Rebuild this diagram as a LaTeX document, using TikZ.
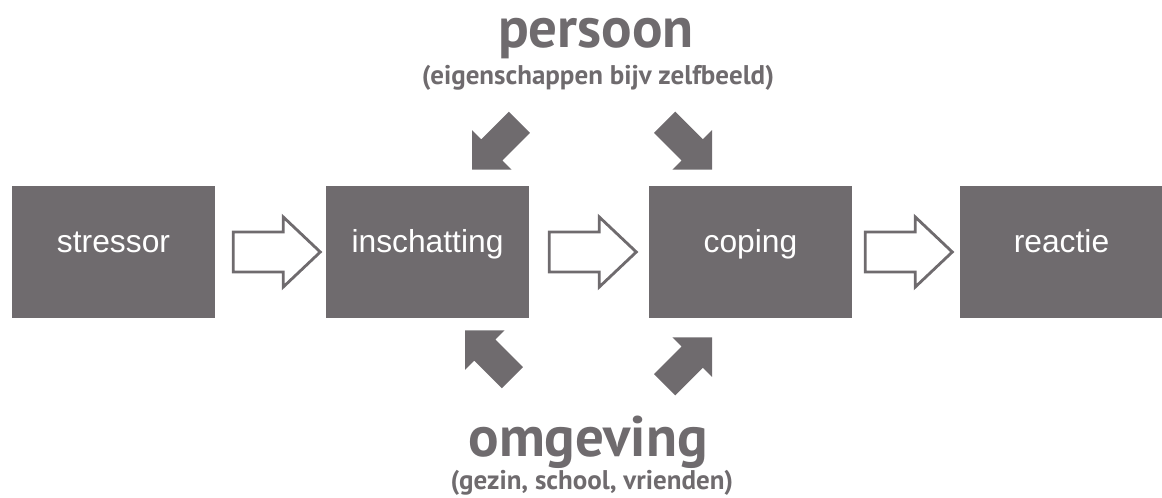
\documentclass[tikz,border=0pt]{standalone}
\usepackage{fontspec}
\setmainfont{Liberation Sans}
\newfontfamily\headfont{PT Sans}
\usetikzlibrary{calc}
\definecolor{boxgray}{HTML}{6F6B6E}
\tikzset{
  box/.style={fill=boxgray, text=white, minimum width=203*0.025cm, minimum height=132*0.025cm,
    inner sep=0pt, text height=1ex, text depth=0.75ex, font=\fontsize{22.6}{27}\selectfont},
  title/.style={text=boxgray, anchor=base, inner sep=0pt, font=\headfont\bfseries\fontsize{40.5}{44}\selectfont},
  subtitle/.style={text=boxgray, anchor=base, inner sep=0pt, font=\headfont\bfseries\fontsize{19.2}{22}\selectfont},
  hollow/.pic={\draw[boxgray, line width=2pt, line join=miter, fill=white]
    (0,-20) -- (50,-20) -- (50,-35) -- (87,0) -- (50,35) -- (50,20) -- (0,20) -- cycle;},
  fat/.pic={\fill[boxgray]
    (0,0) -- (-28,-28) -- (-28,-15) -- (-67,-15) -- (-67,15) -- (-28,15) -- (-28,28) -- cycle;}
}
\begin{document}
\begin{tikzpicture}[x=0.025cm, y=-0.025cm]
	\useasboundingbox (0,0) rectangle (1162,498);
	% boxes
	\node[box] (stressor) at (113.5,252) {stressor};
	\node[box] (inschatting) at (427.5,252) {inschatting};
	\node[box] (coping) at (750.5,252) {coping};
	\node[box] (reactie) at (1061.5,252) {reactie};
	% hollow arrows between boxes
	\pic at ([xshift=18*0.025cm]stressor.east) {hollow};
	\pic at ([xshift=20*0.025cm]inschatting.east) {hollow};
	\pic at ([xshift=13*0.025cm]coping.east) {hollow};
	% persoon
	\node[title] (persoon) at (596,48) {persoon};
	\node[subtitle] (persoonsub) at (598,85) {(eigenschappen bijv zelfbeeld)};
	\pic[rotate=225] at ($(inschatting.north)+(44.5,-16)$) {fat};
	\pic[rotate=-45] at ($(coping.north)+(-38.5,-16)$) {fat};
	% omgeving
	\node[title] (omgeving) at (588,456) {omgeving};
	\node[subtitle] (omgevingsub) at (592,489) {(gezin, school, vrienden)};
	\pic[rotate=135] at ($(inschatting.south)+(37.5,12)$) {fat};
	\pic[rotate=45] at ($(coping.south)+(-38.5,19)$) {fat};
\end{tikzpicture}
\end{document}
